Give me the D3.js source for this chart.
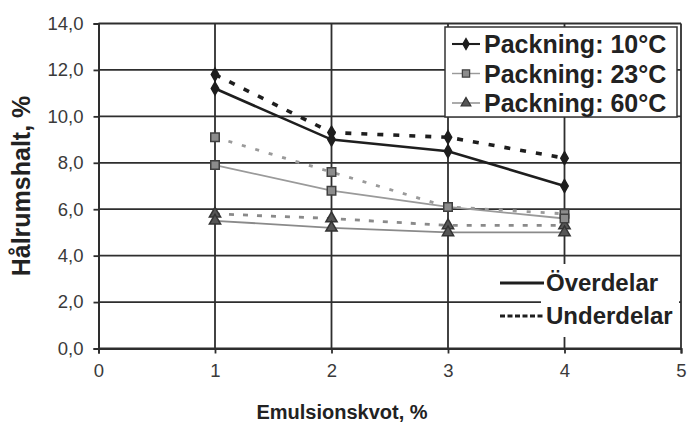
<!DOCTYPE html>
<html>
<head>
<meta charset="utf-8">
<script src="https://cdn.jsdelivr.net/npm/d3@7"></script>
<style>
  html, body { margin: 0; padding: 0; background: #fff; }
  svg { display: block; font-family: "Liberation Sans", Arial, sans-serif; }
</style>
</head>
<body>
<svg id="chart" width="687" height="424"></svg>
<script>
// Emulsion ratio (x) and void content (%) per compaction temperature
const emulsion = [1, 2, 3, 4];
const over10  = [11.2, 9.0, 8.5, 7.0];
const under10 = [11.8, 9.3, 9.1, 8.2];
const over23  = [7.9, 6.8, 6.1, 5.6];
const under23 = [9.1, 7.6, 6.1, 5.8];
const over60  = [5.5, 5.2, 5.0, 5.0];
const under60 = [5.8, 5.6, 5.3, 5.3];

const xTicks = [0, 1, 2, 3, 4, 5];
const yTicks = [0, 2, 4, 6, 8, 10, 12, 14];
const yTickLabels = ["0,0", "2,0", "4,0", "6,0", "8,0", "10,0", "12,0", "14,0"];
const seriesNames = ["Packning: 10°C", "Packning: 23°C", "Packning: 60°C"];
const partNames = ["Överdelar", "Underdelar"];

const svg = d3.select("#chart");
const plotLeft = 98.5, plotRight = 681, plotTop = 23.5, plotBottom = 348.5;

const x = d3.scaleLinear().domain([0, 5]).range([plotLeft, plotRight]);
const y = d3.scaleLinear().domain([0, 14]).range([plotBottom, plotTop]);

const gridColor = "#2e2e2e";

// horizontal gridlines
svg.append("g").selectAll("line").data(yTicks).join("line")
  .attr("x1", plotLeft).attr("x2", plotRight)
  .attr("y1", d => y(d)).attr("y2", d => y(d))
  .attr("stroke", gridColor).attr("stroke-width", 1.8);

// vertical gridlines
svg.append("g").selectAll("line").data(xTicks.slice(1)).join("line")
  .attr("x1", d => x(d)).attr("x2", d => x(d))
  .attr("y1", plotTop).attr("y2", plotBottom)
  .attr("stroke", gridColor).attr("stroke-width", 1.8);

// axes
const yAxis = d3.axisLeft(y).tickValues(yTicks)
  .tickFormat((d, i) => yTickLabels[i]).tickSize(5).tickPadding(6);
const gy = svg.append("g").attr("transform", `translate(${plotLeft},0)`).call(yAxis);
gy.select(".domain").attr("stroke", gridColor).attr("stroke-width", 2);
gy.selectAll(".tick line").attr("stroke", gridColor).attr("stroke-width", 1.8);
gy.selectAll(".tick text").attr("font-size", 18.5).attr("fill", "#3a3a3a")
  .attr("font-family", "Liberation Sans, Arial, sans-serif").attr("dx", -4);

const xAxis = d3.axisBottom(x).tickValues(xTicks).tickFormat(d3.format("d"))
  .tickSize(5).tickPadding(10);
const gx = svg.append("g").attr("transform", `translate(0,${plotBottom})`).call(xAxis);
gx.select(".domain").attr("stroke", gridColor).attr("stroke-width", 2);
gx.selectAll(".tick line").attr("stroke", gridColor).attr("stroke-width", 1.8);
gx.selectAll(".tick text").attr("font-size", 18.5).attr("fill", "#3a3a3a")
  .attr("font-family", "Liberation Sans, Arial, sans-serif");

// axis titles
svg.append("text")
  .attr("transform", `translate(30,186) rotate(-90)`)
  .attr("text-anchor", "middle")
  .attr("font-size", 25).attr("font-weight", "bold").attr("fill", "#222")
  .text("Hålrumshalt, %");

svg.append("text")
  .attr("x", 342).attr("y", 419)
  .attr("text-anchor", "middle")
  .attr("font-size", 20).attr("font-weight", "bold").attr("fill", "#222")
  .text("Emulsionskvot, %");

// series styling
const styles = [
  { color: "#1e1e1e", width: 2.6, dash: "6,10", marker: "diamond",  mFill: "#1e1e1e", mStroke: "#1e1e1e" },
  { color: "#9a9a9a", width: 1.8, dash: "4,10", marker: "square",   mFill: "#8c8c8c", mStroke: "#404040" },
  { color: "#8a8a8a", width: 1.8, dash: "5,9",  marker: "triangle", mFill: "#555555", mStroke: "#333333" }
];
const overData = [over10, over23, over60];
const underData = [under10, under23, under60];

const line = d3.line().x(d => x(d[0])).y(d => y(d[1]));

function markerPath(type) {
  if (type === "diamond") return d3.symbol(d3.symbolDiamond, 48)();
  if (type === "square") return d3.symbol(d3.symbolSquare, 72)();
  return d3.symbol(d3.symbolTriangle, 55)();
}

const plot = svg.append("g");
[2, 1, 0].forEach(i => {
  const s = styles[i];
  const under = emulsion.map((e, k) => [e, underData[i][k]]);
  const over = emulsion.map((e, k) => [e, overData[i][k]]);
  plot.append("path").attr("d", line(under))
    .attr("fill", "none").attr("stroke", s.color)
    .attr("stroke-width", s.width + 1).attr("stroke-dasharray", s.dash);
  plot.append("path").attr("d", line(over))
    .attr("fill", "none").attr("stroke", s.color).attr("stroke-width", s.width);
  [...under, ...over].forEach(p => {
    plot.append("path")
      .attr("d", markerPath(s.marker))
      .attr("transform", `translate(${x(p[0])},${y(p[1])})`)
      .attr("fill", s.mFill).attr("stroke", s.mStroke).attr("stroke-width", 1.5);
  });
});

// legend for the temperatures
const lg = svg.append("g");
lg.append("rect").attr("x", 445).attr("y", 27).attr("width", 232).attr("height", 90)
  .attr("fill", "#fff").attr("stroke", "#333").attr("stroke-width", 1.5);
seriesNames.forEach((name, i) => {
  const s = styles[i];
  const cy = 44 + i * 29.5;
  lg.append("line").attr("x1", 452).attr("x2", 480).attr("y1", cy).attr("y2", cy)
    .attr("stroke", s.color).attr("stroke-width", s.width * 0.8);
  lg.append("path").attr("d", markerPath(s.marker))
    .attr("transform", `translate(466,${cy}) scale(0.85)`)
    .attr("fill", s.mFill).attr("stroke", s.mStroke).attr("stroke-width", 1.5);
  lg.append("text").attr("x", 484).attr("y", cy + 9)
    .attr("font-size", 25).attr("font-weight", "bold").attr("fill", "#222")
    .text(name);
});

// legend for upper/lower parts
const lp = svg.append("g");
lp.append("rect").attr("x", 541).attr("y", 264).attr("width", 138).attr("height", 73)
  .attr("fill", "#fff");
partNames.forEach((name, i) => {
  const cy = 283 + i * 33;
  lp.append("line").attr("x1", 500).attr("x2", 544).attr("y1", cy).attr("y2", cy)
    .attr("stroke", "#1e1e1e").attr("stroke-width", 3.2)
    .attr("stroke-dasharray", i === 0 ? null : "5,2.5");
  lp.append("text").attr("x", 546).attr("y", cy + 8)
    .attr("font-size", 24).attr("font-weight", "bold").attr("fill", "#222")
    .text(name);
});
</script>
</body>
</html>
